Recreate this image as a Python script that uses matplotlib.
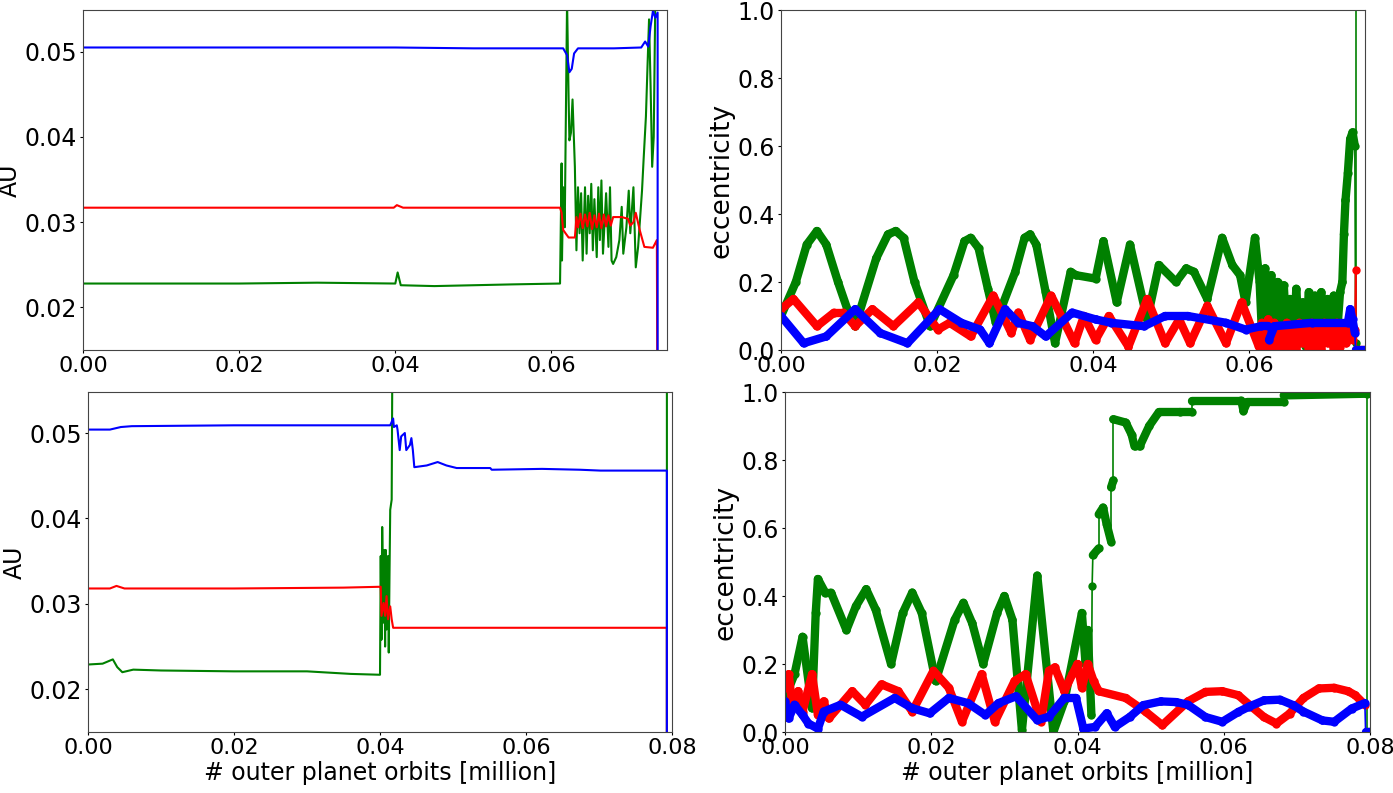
import numpy as np
import matplotlib
matplotlib.use('Agg')
import matplotlib.pyplot as plt
from matplotlib.collections import LineCollection

# ---- top row: semi-major axis [AU] vs time [million outer orbits] ----
t_a1_green = [0.0, 0.010, 0.020, 0.030, 0.0400, 0.0403, 0.0407, 0.045, 0.050, 0.055, 0.0611, 0.0613, 0.06135,
              0.0615, 0.0617, 0.0620, 0.0622, 0.0623, 0.0625, 0.0627, 0.0630, 0.0632, 0.0634, 0.0636, 0.0638,
              0.0640, 0.0643, 0.0645, 0.0647, 0.0649, 0.0651, 0.0653, 0.0655, 0.0658, 0.0660, 0.0662, 0.0664,
              0.0666, 0.0670, 0.0673, 0.0675, 0.0677, 0.0679, 0.0683, 0.0687, 0.0690, 0.0692, 0.0696, 0.0699,
              0.0701, 0.0705, 0.0708, 0.0711, 0.0716, 0.0718, 0.0721, 0.0723, 0.0725, 0.0727, 0.0729, 0.0731,
              0.0733, 0.0736]
a1_green = [0.0228, 0.0228, 0.0228, 0.0229, 0.0228, 0.0241, 0.0226, 0.0225, 0.0226, 0.0227, 0.0228, 0.0369, 0.0255,
            0.0341, 0.0294, 0.0560, 0.0444, 0.0396, 0.0405, 0.0444, 0.0365, 0.0267, 0.0341, 0.0287, 0.0334,
            0.0255, 0.0341, 0.0263, 0.0331, 0.0287, 0.0345, 0.0267, 0.0327, 0.0259, 0.0341, 0.0279, 0.0349,
            0.0263, 0.0334, 0.0271, 0.0341, 0.0255, 0.0251, 0.0259, 0.0279, 0.0318, 0.0263, 0.0294, 0.0337,
            0.0287, 0.0341, 0.0247, 0.0271, 0.0337, 0.0373, 0.0424, 0.0482, 0.0538, 0.0459, 0.0365, 0.0400,
            0.0560, 0.0560]

t_a1_red = [0.0, 0.010, 0.020, 0.030, 0.0398, 0.0402, 0.0410, 0.050, 0.0611, 0.0613, 0.0615, 0.0618, 0.0622,
            0.0630, 0.0632, 0.0634, 0.0637, 0.0640, 0.0643, 0.0646, 0.0649, 0.0652, 0.0655, 0.0658, 0.0661,
            0.0664, 0.0667, 0.0670, 0.0673, 0.0676, 0.0679, 0.0690, 0.0698, 0.0701, 0.0705, 0.0708, 0.0713,
            0.0719, 0.0730, 0.0735, 0.0736, 0.0748]
a1_red = [0.0317, 0.0317, 0.0317, 0.0317, 0.0317, 0.0320, 0.0317, 0.0317, 0.0317, 0.0311, 0.0291, 0.0287, 0.0282,
          0.0282, 0.0306, 0.0294, 0.0310, 0.0293, 0.0309, 0.0295, 0.0311, 0.0292, 0.0308, 0.0294, 0.0310,
          0.0293, 0.0309, 0.0295, 0.0308, 0.0296, 0.0306, 0.0306, 0.0304, 0.0296, 0.0300, 0.0311, 0.0291,
          0.0271, 0.0270, 0.0279, 0.0, 0.0]

t_a1_blue = [0.0, 0.010, 0.020, 0.030, 0.040, 0.050, 0.0615, 0.0620, 0.0623, 0.0626, 0.0629, 0.0634, 0.0680,
             0.0715, 0.0720, 0.0724, 0.0727, 0.0730, 0.0733, 0.0736, 0.0736, 0.0748]
a1_blue = [0.0505, 0.0505, 0.0505, 0.0505, 0.0505, 0.0504, 0.0504, 0.0496, 0.0476, 0.0480, 0.0498, 0.0504, 0.0504,
           0.0505, 0.0512, 0.0506, 0.0530, 0.0548, 0.0540, 0.0546, 0.0, 0.0]

# ---- bottom row: semi-major axis ----
t_a2_green = [0.0, 0.002, 0.0034, 0.0040, 0.0047, 0.0062, 0.010, 0.020, 0.030, 0.036, 0.0400, 0.0401, 0.0402,
              0.0403, 0.0405, 0.0406, 0.0407, 0.0408, 0.0409, 0.0411, 0.0412, 0.0413, 0.0414, 0.0416, 0.0417,
              0.0793, 0.0793, 0.0800]
a2_green = [0.0229, 0.0230, 0.0235, 0.0226, 0.0220, 0.0223, 0.0222, 0.0221, 0.0221, 0.0218, 0.0217, 0.0356, 0.0258,
            0.0390, 0.0278, 0.0363, 0.0250, 0.0363, 0.0270, 0.0356, 0.0243, 0.0332, 0.0410, 0.0422, 0.0600,
            0.0600, 0.0, 0.0]

t_a2_red = [0.0, 0.003, 0.0039, 0.005, 0.020, 0.035, 0.0400, 0.0401, 0.0402, 0.0405, 0.0407, 0.0409, 0.0411,
            0.0414, 0.0416, 0.0418, 0.045, 0.060, 0.0793, 0.0793, 0.0800]
a2_red = [0.0318, 0.0318, 0.0321, 0.0318, 0.0318, 0.0319, 0.0320, 0.0320, 0.0286, 0.0301, 0.0286, 0.0309, 0.0282,
          0.0297, 0.0282, 0.0272, 0.0272, 0.0272, 0.0272, 0.0, 0.0]

t_a2_blue = [0.0, 0.003, 0.0045, 0.006, 0.020, 0.030, 0.038, 0.0414, 0.0418, 0.0419, 0.0423, 0.0424, 0.0427,
             0.0429, 0.0434, 0.0436, 0.0441, 0.0443, 0.0445, 0.0447, 0.0464, 0.0479, 0.0491, 0.0505, 0.0551,
             0.0553, 0.0622, 0.0674, 0.0702, 0.0788, 0.0793, 0.0793, 0.0800]
a2_blue = [0.0504, 0.0504, 0.0507, 0.0508, 0.0509, 0.0509, 0.0509, 0.0509, 0.0517, 0.0507, 0.0509, 0.0504, 0.0480,
           0.0496, 0.0500, 0.0480, 0.0486, 0.0494, 0.0480, 0.0460, 0.0462, 0.0466, 0.0462, 0.0459, 0.0459,
           0.0457, 0.0458, 0.0457, 0.0456, 0.0456, 0.0456, 0.0, 0.0]

# ---- top row: eccentricity ----
t_e1_green = [0.0, 0.0019, 0.0033, 0.0046, 0.0058, 0.0073, 0.0085, 0.0095,
              0.0122, 0.0137, 0.0147, 0.0157, 0.0171, 0.0191,
              0.0221, 0.0235, 0.0243, 0.0253, 0.0265, 0.0275,
              0.0300, 0.0312, 0.0319, 0.0327, 0.0339, 0.0351,
              0.0371, 0.0378, 0.0403, 0.0413, 0.0430, 0.0447, 0.0469, 0.0484, 0.0506, 0.0519, 0.0529, 0.0546,
              0.0565, 0.0578, 0.0588, 0.0595, 0.0607, 0.0613,
              0.0616, 0.0620, 0.0624, 0.0628, 0.0632, 0.0636, 0.0640, 0.0644, 0.0648, 0.0652, 0.0656, 0.0660,
              0.0664, 0.0668, 0.0672, 0.0676, 0.0680, 0.0684, 0.0688, 0.0692, 0.0696, 0.0700, 0.0704, 0.0708,
              0.0712, 0.0716,
              0.0719, 0.0721, 0.0723, 0.0726, 0.0729, 0.0732, 0.0735, 0.0736, 0.0736]
e1_green = [0.10, 0.20, 0.31, 0.35, 0.31, 0.20, 0.12, 0.07,
            0.27, 0.34, 0.35, 0.33, 0.20, 0.07,
            0.22, 0.32, 0.33, 0.30, 0.18, 0.08,
            0.23, 0.33, 0.34, 0.31, 0.17, 0.02,
            0.23, 0.22, 0.21, 0.32, 0.14, 0.31, 0.09, 0.25, 0.20, 0.24, 0.23, 0.15,
            0.33, 0.25, 0.22, 0.14, 0.33, 0.20,
            0.05, 0.24, 0.02, 0.22, 0.01, 0.20, 0.00, 0.19, 0.02, 0.15, 0.00, 0.18,
            0.02, 0.14, 0.01, 0.17, 0.02, 0.16, 0.00, 0.17, 0.03, 0.15, 0.02, 0.16,
            0.04, 0.17,
            0.20, 0.34, 0.44, 0.52, 0.62, 0.64, 0.60, 0.02, 1.50]

t_e1_red = [0.0, 0.0016, 0.0046, 0.0068, 0.0080, 0.0095, 0.0117, 0.0144, 0.0176, 0.0201, 0.0216, 0.0243, 0.0272,
            0.0295, 0.0304, 0.0319, 0.0346, 0.0376, 0.0388, 0.0403, 0.0420, 0.0445, 0.0469, 0.0492, 0.0510,
            0.0524, 0.0546, 0.0570, 0.0590, 0.0612,
            0.0616, 0.0620, 0.0624, 0.0628, 0.0632, 0.0636, 0.0640, 0.0644, 0.0648, 0.0652, 0.0656, 0.0660,
            0.0664, 0.0668, 0.0672, 0.0676, 0.0680, 0.0684, 0.0688, 0.0692, 0.0696, 0.0700, 0.0704, 0.0708,
            0.0712, 0.0716, 0.0720, 0.0724, 0.0728, 0.0732,
            0.0735, 0.0736, 0.0736, 0.0748]
e1_red = [0.12, 0.15, 0.07, 0.11, 0.11, 0.07, 0.12, 0.07, 0.14, 0.06, 0.08, 0.04, 0.16,
          0.05, 0.11, 0.03, 0.16, 0.02, 0.10, 0.03, 0.10, 0.01, 0.15, 0.02, 0.09,
          0.02, 0.13, 0.02, 0.14, 0.01,
          0.08, 0.01, 0.09, 0.00, 0.08, 0.01, 0.07, 0.00, 0.08, 0.01, 0.06, 0.00,
          0.08, 0.02, 0.07, 0.00, 0.08, 0.01, 0.06, 0.00, 0.08, 0.02, 0.07, 0.00,
          0.08, 0.01, 0.07, 0.02, 0.08, 0.03,
          0.06, 0.235, 0.0, 0.0]

t_e1_blue = [0.0, 0.0029, 0.0058, 0.0095, 0.0127, 0.0162, 0.0203, 0.0231, 0.0255, 0.0267, 0.0287, 0.0304, 0.0322,
             0.0339, 0.0373, 0.0403, 0.0423, 0.0465, 0.0492, 0.0521, 0.0570, 0.0595, 0.0615, 0.0624, 0.0625,
             0.0632, 0.0680, 0.0726, 0.0729, 0.0732, 0.0735, 0.0736, 0.0748]
e1_blue = [0.10, 0.02, 0.04, 0.12, 0.05, 0.02, 0.12, 0.08, 0.06, 0.02, 0.12, 0.08, 0.07,
           0.04, 0.11, 0.09, 0.08, 0.07, 0.10, 0.10, 0.08, 0.06, 0.07, 0.07, 0.03,
           0.07, 0.08, 0.08, 0.12, 0.09, 0.05, 0.0, 0.0]

# ---- bottom row: eccentricity ----
t_e2_green = [0.0, 0.0013, 0.0024, 0.0037, 0.0042, 0.0045, 0.0055, 0.0063, 0.0084,
              0.0097, 0.0111, 0.0124, 0.0145, 0.0161, 0.0174, 0.0187, 0.0206,
              0.0232, 0.0244, 0.0256, 0.0271, 0.0290, 0.0300, 0.0311,
              0.0324, 0.0345, 0.0367, 0.0382, 0.0406, 0.0411, 0.0414, 0.0419, 0.0420,
              0.0421, 0.0429, 0.0429, 0.0435, 0.0440, 0.0446, 0.0446, 0.0449, 0.0449, 0.0466, 0.0474, 0.0478,
              0.0485, 0.0498, 0.0511, 0.0540, 0.0556, 0.0556, 0.0624, 0.0627, 0.0632, 0.0682, 0.0682, 0.0796,
              0.0796, 0.0800]
e2_green = [0.10, 0.17, 0.28, 0.07, 0.35, 0.45, 0.41, 0.41, 0.30,
            0.37, 0.42, 0.36, 0.20, 0.35, 0.41, 0.35, 0.15,
            0.33, 0.38, 0.32, 0.20, 0.35, 0.40, 0.33,
            0.005, 0.46, 0.0, 0.09, 0.35, 0.20, 0.30, 0.05, 0.43,
            0.52, 0.54, 0.64, 0.66, 0.61, 0.56, 0.72, 0.74, 0.92, 0.91, 0.875, 0.84,
            0.84, 0.90, 0.94, 0.94, 0.94, 0.975, 0.975, 0.945, 0.97, 0.97, 0.99, 0.995,
            0.0, 0.0]

t_e2_red = [0.0, 0.0005, 0.0010, 0.0018, 0.0024, 0.0037, 0.0045, 0.0053, 0.0060, 0.0092, 0.0110, 0.0132, 0.0155,
            0.0174, 0.0203, 0.0224, 0.0242, 0.0269, 0.0287, 0.0314, 0.0329, 0.0350, 0.0361, 0.0369, 0.0382,
            0.0393, 0.0400, 0.0406, 0.0414, 0.0422, 0.0429,
            0.0466, 0.0493, 0.0516, 0.0551, 0.0575, 0.0598, 0.0620, 0.0635, 0.0655, 0.0672, 0.0690, 0.0709,
            0.0730, 0.0751, 0.0770, 0.0780, 0.0793]
e2_red = [0.13, 0.17, 0.08, 0.12, 0.06, 0.17, 0.05, 0.09, 0.04, 0.12, 0.08, 0.14, 0.12,
          0.06, 0.18, 0.13, 0.03, 0.17, 0.03, 0.15, 0.17, 0.03, 0.18, 0.19, 0.12,
          0.17, 0.20, 0.13, 0.20, 0.15, 0.12,
          0.10, 0.06, 0.02, 0.09, 0.118, 0.12, 0.108, 0.08, 0.044, 0.025, 0.054, 0.10,
          0.128, 0.13, 0.12, 0.108, 0.08]

t_e2_blue = [0.0, 0.0005, 0.0013, 0.0024, 0.0032, 0.0045, 0.0053, 0.0076, 0.0105, 0.0150, 0.0174, 0.0198, 0.0224,
             0.0250, 0.0274, 0.0292, 0.0316, 0.0345, 0.0361, 0.0382, 0.0398, 0.0408, 0.0424, 0.0440, 0.0451,
             0.0472,
             0.0490, 0.0514, 0.0535, 0.0551, 0.0575, 0.0598, 0.0620, 0.0635, 0.0655, 0.0677, 0.0695, 0.0709,
             0.0735, 0.0751, 0.0775, 0.0793, 0.0794, 0.0800]
e2_blue = [0.09, 0.04, 0.08, 0.05, 0.025, 0.01, 0.06, 0.08, 0.045, 0.10, 0.07, 0.055, 0.10,
           0.085, 0.05, 0.085, 0.105, 0.035, 0.045, 0.10, 0.10, 0.01, 0.015, 0.055, 0.015,
           0.045,
           0.079, 0.09, 0.088, 0.08, 0.044, 0.03, 0.059, 0.075, 0.093, 0.095, 0.079, 0.06,
           0.034, 0.03, 0.069, 0.085, 0.0, 0.0]

t_end_top = 0.0748
t_end_bottom = 0.080
au_ticks = [0.02, 0.03, 0.04, 0.05]
ecc_ticks = [0.0, 0.2, 0.4, 0.6, 0.8, 1.0]
xlabel = '# outer planet orbits [million]'


def plot_a(ax, t, a, color):
    ax.plot(t, a, color=color, lw=1.5)


def plot_e(ax, t, e, color):
    # dense output -> thick band; near-instant jumps only get a thin line
    t = np.asarray(t)
    e = np.asarray(e)
    pts = np.column_stack([t, e]).reshape(-1, 1, 2)
    segs = np.concatenate([pts[:-1], pts[1:]], axis=1)
    widths = np.where(np.diff(t) < 1.2e-4, 1.2, 6.0)
    lc = LineCollection(segs, colors=color, linewidths=widths, capstyle='round', joinstyle='round')
    ax.add_collection(lc)
    ax.plot(t, e, 'o', color=color, ms=6, mew=0)


W, H = 1393, 793
fig = plt.figure(figsize=(W / 100, H / 100), dpi=100)
ax_a1 = fig.add_axes([83 / W, 1 - 350 / H, 584 / W, 340 / H])
ax_e1 = fig.add_axes([781 / W, 1 - 350 / H, 584 / W, 340 / H])
ax_a2 = fig.add_axes([88 / W, 1 - 732 / H, 584 / W, 340 / H])
ax_e2 = fig.add_axes([785 / W, 1 - 732 / H, 585 / W, 340 / H])

plot_a(ax_a1, t_a1_green, a1_green, 'g')
plot_a(ax_a1, t_a1_red, a1_red, 'r')
plot_a(ax_a1, t_a1_blue, a1_blue, 'b')
plot_a(ax_a2, t_a2_green, a2_green, 'g')
plot_a(ax_a2, t_a2_red, a2_red, 'r')
plot_a(ax_a2, t_a2_blue, a2_blue, 'b')

plot_e(ax_e1, t_e1_green, e1_green, 'g')
plot_e(ax_e1, t_e1_red, e1_red, 'r')
plot_e(ax_e1, t_e1_blue, e1_blue, 'b')
plot_e(ax_e2, t_e2_green, e2_green, 'g')
plot_e(ax_e2, t_e2_red, e2_red, 'r')
plot_e(ax_e2, t_e2_blue, e2_blue, 'b')

ax_a1.set_xlim(0, t_end_top)
ax_a1.set_ylim(0.015, 0.0549)
ax_a2.set_xlim(0, t_end_bottom)
ax_a2.set_ylim(0.015, 0.0548)
ax_e1.set_xlim(0, t_end_top)
ax_e2.set_xlim(0, t_end_bottom)

for ax in (ax_a1, ax_a2):
    ax.set_yticks(au_ticks)
    ax.set_ylabel('AU', fontsize=17, labelpad=2)
for ax in (ax_e1, ax_e2):
    ax.set_ylim(0, 1)
    ax.set_yticks(ecc_ticks)
    ax.set_ylabel('eccentricity', fontsize=19, labelpad=2)
ax_a1.set_xticks([0.0, 0.02, 0.04, 0.06])
ax_e1.set_xticks([0.0, 0.02, 0.04, 0.06])
ax_a2.set_xticks([0.0, 0.02, 0.04, 0.06, 0.08])
ax_e2.set_xticks([0.0, 0.02, 0.04, 0.06, 0.08])
ax_a2.set_xlabel(xlabel, fontsize=17, labelpad=2)
ax_e2.set_xlabel(xlabel, fontsize=17, labelpad=2)

for ax in (ax_a1, ax_e1, ax_a2, ax_e2):
    ax.tick_params(labelsize=17, length=2.5, pad=2)
    for lab in ax.get_xticklabels():
        lab.set_fontsize(16)
    for s in ax.spines.values():
        s.set_color('#444444')

fig.savefig('out.png', dpi=100)
